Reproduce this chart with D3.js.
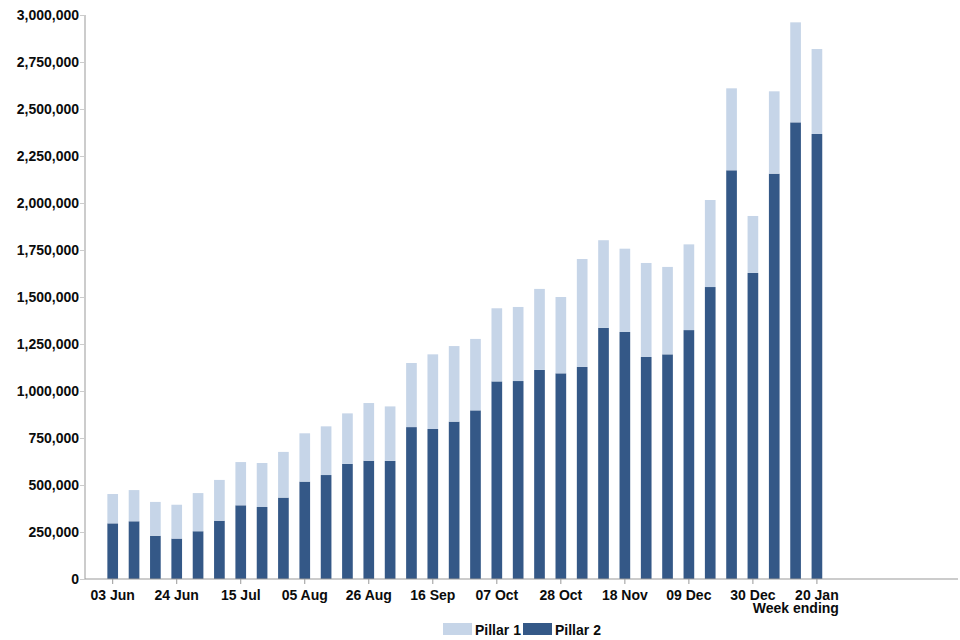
<!DOCTYPE html>
<html>
<head>
<meta charset="utf-8">
<script src="https://cdn.jsdelivr.net/npm/d3@7"></script>
<style>
  body { margin: 0; background: #fff; }
  text { font-family: "Liberation Sans", Arial, sans-serif; font-weight: bold; fill: #0b0c0c; }
</style>
</head>
<body>
<svg id="chart"></svg>
<script>
// week ending labels
var weeks = ["03 Jun","10 Jun","17 Jun","24 Jun","01 Jul","08 Jul","15 Jul","22 Jul","29 Jul",
  "05 Aug","12 Aug","19 Aug","26 Aug","02 Sep","09 Sep","16 Sep","23 Sep","30 Sep",
  "07 Oct","14 Oct","21 Oct","28 Oct","04 Nov","11 Nov","18 Nov","25 Nov","02 Dec",
  "09 Dec","16 Dec","23 Dec","30 Dec","06 Jan","13 Jan","20 Jan"];

var pillar1 = [156000,166000,180000,180000,203000,217000,230000,234000,243000,
  257000,259000,269000,307000,290000,341000,397000,402000,380000,
  389000,394000,431000,406000,574000,466000,443000,500000,465000,
  456000,463000,436000,303000,438000,532000,452000];

var pillar2 = [296000,307000,230000,215000,254000,310000,392000,383000,433000,
  518000,553000,612000,629000,628000,808000,798000,837000,897000,
  1051000,1053000,1112000,1094000,1128000,1336000,1314000,1181000,1195000,
  1324000,1553000,2174000,1628000,2156000,2429000,2367000];

var yTicks = [0,250000,500000,750000,1000000,1250000,1500000,1750000,2000000,2250000,2500000,2750000,3000000];

var colors = {pillar1: "#c6d5e8", pillar2: "#345887"};

var width = 960, height = 640;
var plotLeft = 85, plotTop = 15, plotBottom = 579, plotRight = 958;

var svg = d3.select("#chart")
    .attr("width", width)
    .attr("height", height);

// build rows for stacking
var rows = weeks.map(function(w, i) {
  return {week: w, pillar2: pillar2[i], pillar1: pillar1[i]};
});
var series = d3.stack().keys(["pillar2", "pillar1"])(rows);

// scales
var step = 21.34;
var x = d3.scaleBand()
    .domain(weeks)
    .range([112.7 - step / 2, 112.7 - step / 2 + step * weeks.length])
    .paddingInner(0.5)
    .paddingOuter(0.25);

var y = d3.scaleLinear()
    .domain([0, 3000000])
    .range([plotBottom, plotTop]);

// bars
svg.append("g").selectAll("g")
    .data(series)
  .enter().append("g")
    .attr("fill", function(d) { return colors[d.key]; })
  .selectAll("rect")
    .data(function(d) { return d; })
  .enter().append("rect")
    .attr("x", function(d) { return x(d.data.week); })
    .attr("width", x.bandwidth())
    .attr("y", function(d) { return y(d[1]); })
    .attr("height", function(d) { return y(d[0]) - y(d[1]); });

// y axis
var yAxis = svg.append("g")
    .attr("transform", "translate(" + plotLeft + ",0)")
    .call(d3.axisLeft(y).tickValues(yTicks).tickSize(5).tickPadding(1)
      .tickFormat(d3.format(",")));
yAxis.select(".domain").attr("stroke", "#999").attr("d", "M0," + plotTop + "V" + plotBottom);
yAxis.selectAll(".tick line").attr("stroke", "#ccc");
yAxis.selectAll("text").style("font-size", "14px");

// x axis
var xAxis = svg.append("g")
    .attr("transform", "translate(0," + plotBottom + ")")
    .call(d3.axisBottom(x)
      .tickValues(weeks.filter(function(d, i) { return i % 3 === 0; }))
      .tickSize(5).tickPadding(6));
xAxis.select(".domain").attr("stroke", "#999").attr("d", "M" + plotLeft + ",0H" + plotRight);
xAxis.selectAll(".tick line").attr("stroke", "#999");
xAxis.selectAll("text").style("font-size", "14px");

// axis title
svg.append("text")
    .attr("x", x("20 Jan") + x.bandwidth() / 2 + 22)
    .attr("y", 613)
    .attr("text-anchor", "end")
    .style("font-size", "14px")
    .text("Week ending");

// legend
var legend = [{key: "pillar1", label: "Pillar 1", x: 443}, {key: "pillar2", label: "Pillar 2", x: 523}];
var lg = svg.append("g").selectAll("g")
    .data(legend)
  .enter().append("g")
    .attr("transform", function(d) { return "translate(" + d.x + ",623)"; });
lg.append("rect")
    .attr("width", 29)
    .attr("height", 12)
    .attr("fill", function(d) { return colors[d.key]; });
lg.append("text")
    .attr("x", 32)
    .attr("y", 12)
    .style("font-size", "14px")
    .text(function(d) { return d.label; });
</script>
</body>
</html>
